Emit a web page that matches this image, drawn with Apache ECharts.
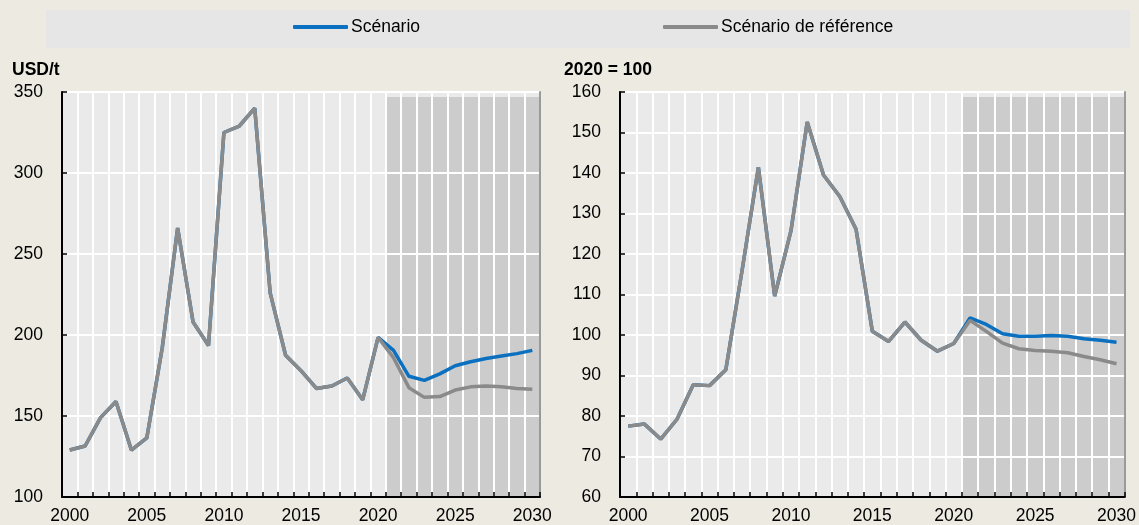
<!DOCTYPE html>
<html>
<head>
<meta charset="utf-8">
<script src="https://cdn.jsdelivr.net/npm/echarts@6/dist/echarts.min.js"></script>
<style>
html,body{margin:0;padding:0;background:#ECEAE1;}
#c{width:1139px;height:525px;}
</style>
</head>
<body>
<div id="c"></div>
<script>
// ---- data ----
var years = [];
for (var yr = 2000; yr <= 2030; yr++) years.push(String(yr));
var shadeFrom = '2021';

// Left panel: USD/t
var leftHist = [129, 131.5, 149, 159, 129, 136.5, 192, 266, 208, 193.5, 325, 329, 340, 226, 187.5, 178, 167, 168.5, 173.5, 160, 198.5];
var leftScenario = [190.5, 174.5, 172, 176, 181, 183.5, 185.5, 187, 188.5, 190.5];
var leftBaseline = [186, 167.5, 161.5, 162, 166, 168, 168.5, 168, 167, 166.5];

// Right panel: 2020 = 100
var rightHist = [77.5, 78, 74.3, 79.2, 87.7, 87.5, 91.4, 116, 141.4, 109.6, 125.7, 152.6, 139.5, 134.2, 126.1, 100.9, 98.4, 103.2, 98.7, 96, 97.9];
var rightScenario = [104.2, 102.6, 100.3, 99.7, 99.7, 99.9, 99.7, 99.1, 98.7, 98.2];
var rightBaseline = [103.6, 100.9, 98, 96.6, 96.2, 96, 95.6, 94.7, 93.9, 92.9];

var leftTicks = {min: 100, max: 350, interval: 50};
var rightTicks = {min: 60, max: 160, interval: 10};

var nameScenario = 'Scénario';
var nameBaseline = 'Scénario de référence';
var unitLeft = 'USD/t';
var unitRight = '2020 = 100';

// ---- styles ----
var FONT = "'Liberation Sans', Arial, sans-serif";
var FS = 17.5;
var BLUE = '#0B70BF';
var GREY = '#8A8A8A';
var PLOT_BG = '#EAEAEA';
var SHADE = '#CCCCCC';

var bandData = years.map(function (y, i) { return [i, y >= shadeFrom ? 1 : 0]; });

function bandSeries(gi) {
  return {
    type: 'custom', name: 'zone' + gi, xAxisIndex: gi, yAxisIndex: gi * 2, z: -1, silent: true,
    data: bandData, encode: {x: 0, y: 1},
    renderItem: function (params, api) {
      var cs = params.coordSys;
      var w = api.size([1, 0])[0];
      var cx = api.coord([api.value(0), 0])[0];
      var shaded = api.value(1) === 1;
      var children = [{
        type: 'rect', shape: {x: cx - w / 2, y: cs.y, width: w + 0.5, height: cs.height},
        style: {fill: PLOT_BG}
      }];
      if (shaded) children.push({
        type: 'rect', shape: {x: cx - w / 2, y: cs.y + 5, width: w + 0.5, height: cs.height - 5},
        style: {fill: SHADE}
      });
      return {type: 'group', children: children};
    }
  };
}

function xAxisDef(gi) {
  return {
    type: 'category', gridIndex: gi, data: years, boundaryGap: true,
    axisLine: {show: true, lineStyle: {color: '#000', width: 2}},
    axisTick: {show: true, inside: true, length: 5, interval: 0, lineStyle: {color: '#000', width: 1.5}},
    axisLabel: {interval: 4, color: '#000', fontFamily: FONT, fontSize: FS, margin: 10},
    splitLine: {show: true, interval: 0, lineStyle: {color: '#FFFFFF', width: 2}}
  };
}
function yAxisDef(gi, t) {
  return {
    type: 'value', gridIndex: gi, min: t.min, max: t.max, interval: t.interval, position: 'left',
    axisLine: {show: true, lineStyle: {color: '#000', width: 2}},
    axisTick: {show: true, inside: true, length: 5, lineStyle: {color: '#000', width: 1.5}},
    axisLabel: {color: '#000', fontFamily: FONT, fontSize: FS, margin: 19},
    splitLine: {show: true, lineStyle: {color: '#FFFFFF', width: 2}}
  };
}
function yRightDef(gi, t) {
  return {
    type: 'value', gridIndex: gi, min: t.min, max: t.max, interval: t.interval, position: 'right',
    axisLine: {show: true, lineStyle: {color: '#9A9A9A', width: 2}},
    axisTick: {show: false}, axisLabel: {show: false}, splitLine: {show: false}
  };
}
function lineSeries(name, gi, hist, future, color, z) {
  return {
    type: 'line', name: name, xAxisIndex: gi, yAxisIndex: gi * 2, data: hist.concat(future),
    showSymbol: false, symbol: 'none', z: z, silent: true,
    lineStyle: {color: color, width: 3.5}, itemStyle: {color: color}
  };
}

var chart = echarts.init(document.getElementById('c'), null, {renderer: 'canvas'});
chart.setOption({
  animation: false,
  backgroundColor: '#ECEAE1',
  textStyle: {fontFamily: FONT},
  graphic: [{
    type: 'rect', left: 46, top: 10, z: -10, silent: true,
    shape: {width: 1084, height: 38}, style: {fill: '#E6E6E6'}
  }],
  title: [
    {text: unitLeft, left: 12, top: 61, textStyle: {fontFamily: FONT, fontSize: FS, fontWeight: 'bold', color: '#000'}, padding: 0},
    {text: unitRight, left: 564, top: 61, textStyle: {fontFamily: FONT, fontSize: FS, fontWeight: 'bold', color: '#000'}, padding: 0}
  ],
  legend: [
    {data: [nameScenario], left: 293, top: 18, itemWidth: 55, itemHeight: 4, itemGap: 0, icon: 'roundRect', padding: 0,
     selectedMode: false, textStyle: {fontFamily: FONT, fontSize: FS, color: '#000', padding: [0, 0, 0, -2]}},
    {data: [nameBaseline], left: 663, top: 18, itemWidth: 55, itemHeight: 4, itemGap: 0, icon: 'roundRect', padding: 0,
     selectedMode: false, textStyle: {fontFamily: FONT, fontSize: FS, color: '#000', padding: [0, 0, 0, -2]}}
  ],
  grid: [
    {left: 62, top: 92, width: 478, height: 405, show: false},
    {left: 620, top: 92, width: 505, height: 405, show: false}
  ],
  xAxis: [xAxisDef(0), xAxisDef(1)],
  yAxis: [yAxisDef(0, leftTicks), yRightDef(0, leftTicks), yAxisDef(1, rightTicks), yRightDef(1, rightTicks)],
  series: [
    bandSeries(0), bandSeries(1),
    lineSeries(nameScenario, 0, leftHist, leftScenario, BLUE, 3),
    lineSeries(nameBaseline, 0, leftHist, leftBaseline, GREY, 4),
    lineSeries(nameScenario, 1, rightHist, rightScenario, BLUE, 3),
    lineSeries(nameBaseline, 1, rightHist, rightBaseline, GREY, 4)
  ]
});
</script>
</body>
</html>
